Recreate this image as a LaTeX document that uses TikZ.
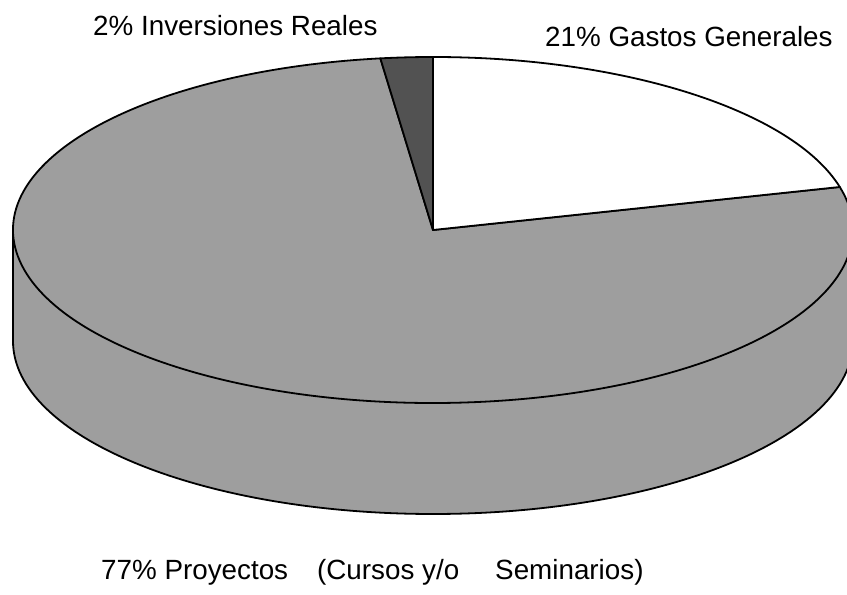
\documentclass[tikz,border=0pt]{standalone}
\usepackage{fontspec}
\setmainfont{Liberation Sans}
\definecolor{pastel}{gray}{0.62}
\definecolor{pastelosc}{gray}{0.32}
\tikzset{
	rotulo/.style={font=\fontsize{27.8}{30}\selectfont, inner sep=0pt, anchor=base west},
	borde/.style={line width=1.8pt, line join=round}
}
\begin{document}
\begin{tikzpicture}[x=1pt,y=1pt]
	\useasboundingbox (0,0) rectangle (847,595);
	\clip (0,0) rectangle (847,595);
	\coordinate (centro) at (433,365);
	\coordinate (base) at (433,254);
	% pared lateral
	\fill[pastel] (13,365) -- (13,254) arc[start angle=180, end angle=360, x radius=420, y radius=173]
		-- (853,365) arc[start angle=0, end angle=-180, x radius=420, y radius=173] -- cycle;
	\draw[borde] (13,365) -- (13,254) arc[start angle=180, end angle=360, x radius=420, y radius=173] -- (853,365);
	% tapa
	\filldraw[borde, fill=pastel] (centro) -- ++(97.2:420 and 173) arc[start angle=97.2, end angle=374.4, x radius=420, y radius=173] -- cycle;
	\filldraw[borde, fill=pastelosc] (centro) -- ++(90:420 and 173) arc[start angle=90, end angle=97.2, x radius=420, y radius=173] -- cycle;
	\filldraw[borde, fill=white] (centro) -- ++(14.4:420 and 173) arc[start angle=14.4, end angle=90, x radius=420, y radius=173] -- cycle;
	% rotulos
	\node[rotulo] (inversiones) at (93,559) {2\% Inversiones Reales};
	\node[rotulo] (gastos) at (545,548) {21\% Gastos Generales};
	\node[rotulo] (proyectos) at (101,15) {77\% Proyectos\hspace{29pt}(Cursos y/o\hspace{36pt}Seminarios)};
\end{tikzpicture}
\end{document}
